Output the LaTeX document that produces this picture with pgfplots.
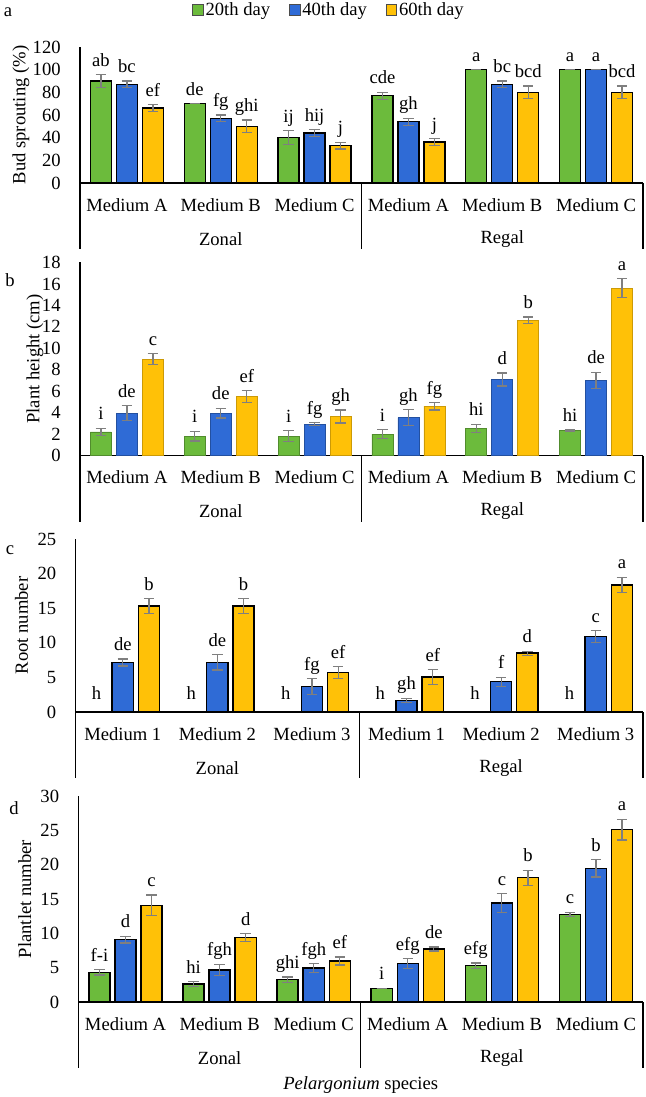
\documentclass[border=0pt]{standalone}
\usepackage{fontspec}
\setmainfont{Liberation Serif}
\usepackage{pgfplots}
\usepackage{pgfplotstable}
\pgfplotsset{compat=1.18}

\definecolor{gF}{HTML}{6CBB3C}
\definecolor{bF}{HTML}{2F6BD6}
\definecolor{yF}{HTML}{FFC107}
\definecolor{errgray}{HTML}{7F7F7F}

% x = group (Zonal A,B,C, Regal A,B,C); g/b/y = 20th/40th/60th day, e = error
\pgfplotstableread{
x g ge b be y ye lg lb ly
0 90 5.5 87 3 66 3 ab bc ef
1 70 0 57 3 50 5.5 de fg ghi
2 40 6 44 3 33 3 ij hij j
3 77 3 54 3 36 3 cde gh j
4 100 0 87 3 80 5.5 a bc bcd
5 100 0 100 0 80 5.5 a a bcd
}\budtab

\pgfplotstableread{
x g ge b be y ye lg lb ly
0 2.2 0.35 3.95 0.7 8.98 0.5 i de c
1 1.8 0.45 3.95 0.45 5.5 0.55 i de ef
2 1.8 0.5 2.92 0.15 3.64 0.6 i fg gh
3 2.0 0.4 3.54 0.75 4.6 0.35 i gh fg
4 2.52 0.4 7.09 0.6 12.62 0.3 hi d b
5 2.33 0.05 7.0 0.77 15.6 0.9 hi de a
}\heighttab

\pgfplotstableread{
x g ge b be y ye lg lb ly
0 0 0 7.16 0.5 15.3 1.1 h de b
1 0 0 7.16 1.1 15.3 1.1 h de b
2 0 0 3.7 1.15 5.72 0.85 h fg ef
3 0 0 1.68 0.3 5.05 1.05 h gh ef
4 0 0 4.38 0.65 8.5 0.3 h f d
5 0 0 10.9 0.85 18.37 1.1 h c a
}\roottab

\pgfplotstableread{
x g ge b be y ye lg lb ly
0 4.32 0.4 9.08 0.5 14.08 1.5 f-i d c
1 2.62 0.35 4.66 0.85 9.37 0.6 hi fgh d
2 3.25 0.4 4.95 0.63 5.97 0.58 ghi fgh ef
3 1.99 0 5.58 0.72 7.72 0.3 i efg de
4 5.29 0.4 14.4 1.4 18.1 1.1 efg c b
5 12.77 0.3 19.47 1.25 25.1 1.5 c b a
}\plantlettab

\pgfplotsset{
  panel/.style={
    scale only axis, anchor=south west,
    xmin=-0.5, xmax=5.5, ymin=0,
    axis x line*=bottom, axis y line*=left,
    axis line style={line width=0.6pt, -},
    major tick length=0pt,
    xtick={0,...,5},
    enlargelimits=false, clip=false,
    /pgf/number format/assume math mode=true,
    yticklabel style={anchor=east, inner sep=0pt, xshift=-9.5pt},
    xticklabel style={anchor=center, yshift=-11pt},
    every axis y label/.style={rotate=90, anchor=center},
  },
  errs/.style={error bars/.cd, y dir=both, y explicit,
    error bar style={draw=errgray, line width=0.6pt},
    error mark options={draw=errgray, line width=0.6pt, mark size=2.6pt, rotate=90}},
  barbase/.style={ybar, bar shift=0pt, bar width=0.224, draw=black, line width=0.7pt},
  barG/.style={barbase, fill=gF,
    legend image code/.code={\draw[draw=black!70, line width=0.4pt, fill=gF] (0pt,-2.6pt) rectangle (5.2pt,2.6pt);}},
  barB/.style={barbase, fill=bF,
    legend image code/.code={\draw[draw=black!70, line width=0.4pt, fill=bF] (0pt,-2.6pt) rectangle (5.2pt,2.6pt);}},
  barY/.style={barbase, fill=yF,
    legend image code/.code={\draw[draw=black!70, line width=0.4pt, fill=yF] (0pt,-2.6pt) rectangle (5.2pt,2.6pt);}},
  lbl/.style={draw=none, mark=none, forget plot, nodes near coords, point meta=explicit symbolic,
    every node near coord/.style={anchor=base, yshift=4.2pt, inner sep=0pt}},
}

\newcommand{\grouplines}{%
  \draw[line width=0.6pt] (axis cs:-0.5,0) -- ([yshift=-33pt]axis cs:-0.5,0);
  \draw[line width=0.6pt] (axis cs:2.5,0) -- ([yshift=-33pt]axis cs:2.5,0);
  \draw[line width=0.6pt] (axis cs:5.5,0) -- ([yshift=-33pt]axis cs:5.5,0);
  \node[anchor=center] at ([yshift=-28pt]axis cs:1,0) {Zonal};
  \node[anchor=center] at ([yshift=-28pt]axis cs:4,0) {Regal};
}

\begin{document}
\fontsize{9.3}{11}\selectfont
\begin{tikzpicture}
\useasboundingbox (0,0) rectangle (323pt,-548.5pt);

% a: bud sprouting
\begin{axis}[panel, at={(40pt,-91.5pt)}, width=281.5pt, height=68pt,
  ymax=120, ytick={0,20,...,120},
  xticklabels={Medium A,Medium B,Medium C,Medium A,Medium B,Medium C},
  ylabel={Bud sprouting (\%)},
  ylabel style={at={(axis description cs:-0.105,0.5)}},
  legend style={at={(0.4423,1.272)}, anchor=center, draw=none, fill=none,
    legend columns=3, inner sep=0pt,
    /tikz/every even column/.append style={column sep=8.5pt},
    nodes={inner sep=1pt}},
]
\addplot[barG, errs] table[x expr=\thisrow{x}-0.277, y=g, y error=ge]{\budtab};
\addlegendentry{20th day}
\addplot[barB, errs] table[x=x, y=b, y error=be]{\budtab};
\addlegendentry{40th day}
\addplot[barY, errs] table[x expr=\thisrow{x}+0.277, y=y, y error=ye]{\budtab};
\addlegendentry{60th day}
\addplot[lbl] table[x expr=\thisrow{x}-0.277, y expr=\thisrow{g}+\thisrow{ge}, meta=lg]{\budtab};
\addplot[lbl] table[x=x, y expr=\thisrow{b}+\thisrow{be}, meta=lb]{\budtab};
\addplot[lbl] table[x expr=\thisrow{x}+0.277, y expr=\thisrow{y}+\thisrow{ye}, meta=ly]{\budtab};
\grouplines
\end{axis}

% b: plant height
\begin{axis}[panel, at={(40pt,-227.75pt)}, width=281.5pt, height=96.5pt,
  ymax=18, ytick={0,2,...,18},
  xticklabels={Medium A,Medium B,Medium C,Medium A,Medium B,Medium C},
  ylabel={Plant height (cm)},
  ylabel style={at={(axis description cs:-0.08,0.5)}},
]
\addplot[barG, draw=gF!75!black, line width=0.3pt, errs] table[x expr=\thisrow{x}-0.277, y=g, y error=ge]{\heighttab};
\addplot[barB, draw=bF!75!black, line width=0.3pt, errs] table[x=x, y=b, y error=be]{\heighttab};
\addplot[barY, draw=yF!80!black, line width=0.3pt, errs] table[x expr=\thisrow{x}+0.277, y=y, y error=ye]{\heighttab};
\addplot[lbl] table[x expr=\thisrow{x}-0.277, y expr=\thisrow{g}+\thisrow{ge}, meta=lg]{\heighttab};
\addplot[lbl] table[x=x, y expr=\thisrow{b}+\thisrow{be}, meta=lb]{\heighttab};
\addplot[lbl] table[x expr=\thisrow{x}+0.277, y expr=\thisrow{y}+\thisrow{ye}, meta=ly]{\heighttab};
\grouplines
\end{axis}

% c: root number
\begin{axis}[panel, at={(37.75pt,-356pt)}, width=283.75pt, height=86.5pt,
  ymax=25, ytick={0,5,...,25},
  xticklabels={Medium 1,Medium 2,Medium 3,Medium 1,Medium 2,Medium 3},
  ylabel={Root number},
  ylabel style={at={(axis description cs:-0.095,0.5)}},
]
\addplot[barB, errs] table[x=x, y=b, y error=be]{\roottab};
\addplot[barY, errs] table[x expr=\thisrow{x}+0.277, y=y, y error=ye]{\roottab};
\addplot[lbl] table[x expr=\thisrow{x}-0.277, y expr=\thisrow{g}+0.6, meta=lg]{\roottab};
\addplot[lbl] table[x=x, y expr=\thisrow{b}+\thisrow{be}, meta=lb]{\roottab};
\addplot[lbl] table[x expr=\thisrow{x}+0.277, y expr=\thisrow{y}+\thisrow{ye}, meta=ly]{\roottab};
\grouplines
\end{axis}

% d: plantlet number
\begin{axis}[panel, at={(39.25pt,-501pt)}, width=282.25pt, height=103pt,
  ymax=30, ytick={0,5,...,30},
  xticklabels={Medium A,Medium B,Medium C,Medium A,Medium B,Medium C},
  ylabel={Plantlet number},
  ylabel style={at={(axis description cs:-0.095,0.5)}},
]
\addplot[barG, errs] table[x expr=\thisrow{x}-0.277, y=g, y error=ge]{\plantlettab};
\addplot[barB, errs] table[x=x, y=b, y error=be]{\plantlettab};
\addplot[barY, errs] table[x expr=\thisrow{x}+0.277, y=y, y error=ye]{\plantlettab};
\addplot[lbl] table[x expr=\thisrow{x}-0.277, y expr=\thisrow{g}+\thisrow{ge}, meta=lg]{\plantlettab};
\addplot[lbl] table[x=x, y expr=\thisrow{b}+\thisrow{be}, meta=lb]{\plantlettab};
\addplot[lbl] table[x expr=\thisrow{x}+0.277, y expr=\thisrow{y}+\thisrow{ye}, meta=ly]{\plantlettab};
\grouplines
\node[anchor=center] at ([yshift=-41.5pt]axis cs:2.5,0) {\textit{Pelargonium} species};
\end{axis}

\node at (4pt,-6pt) {a};
\node at (5pt,-140pt) {b};
\node at (5pt,-275pt) {c};
\node at (7pt,-404pt) {d};
\end{tikzpicture}
\end{document}
